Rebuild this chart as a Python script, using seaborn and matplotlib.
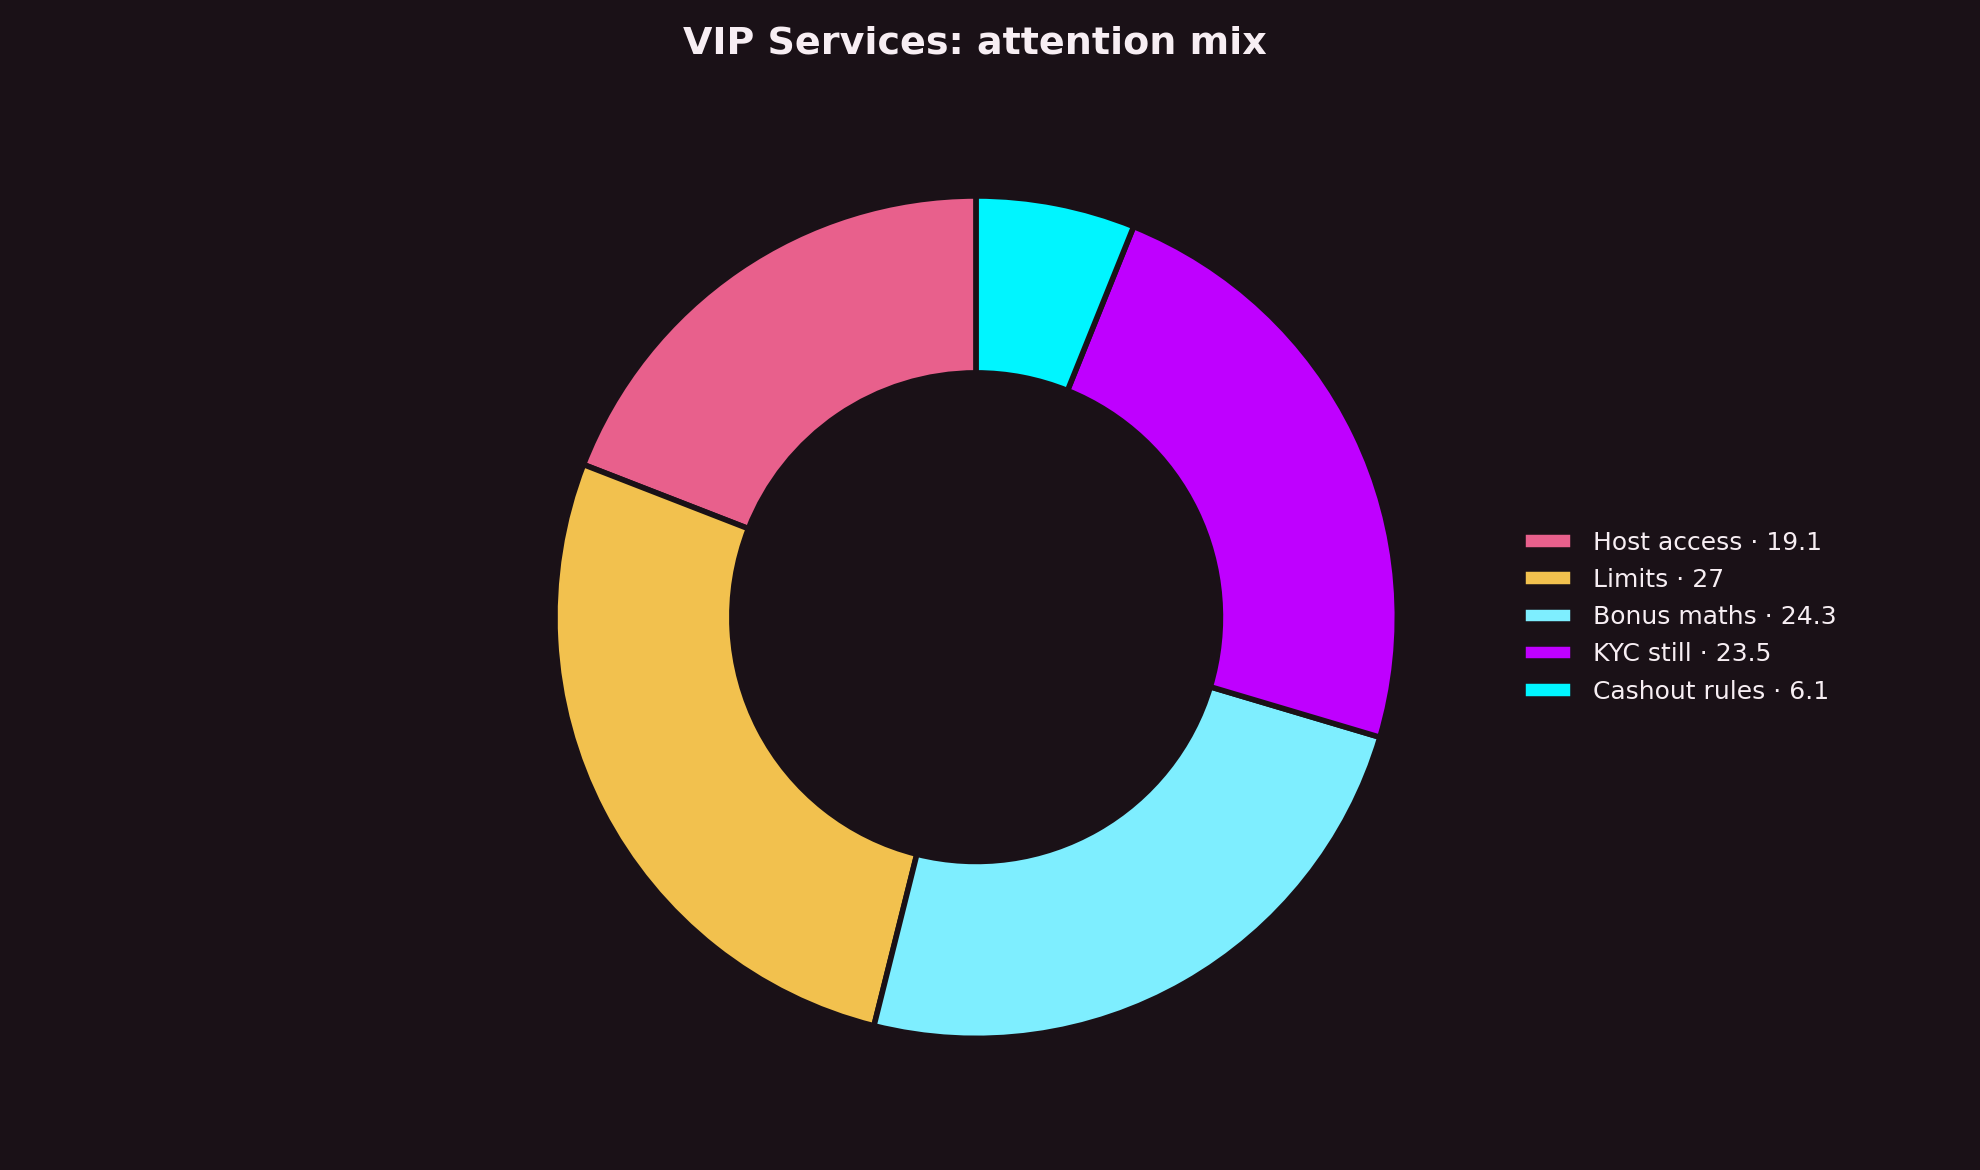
import matplotlib
matplotlib.use('Agg')
import matplotlib.pyplot as plt
import seaborn as sns

# Attention mix data for VIP Services
categories = ['Host access', 'Limits', 'Bonus maths', 'KYC still', 'Cashout rules']
values = [19.1, 27, 24.3, 23.5, 6.1]
colours = ['#e8608c', '#f2c14e', '#7eeeff', '#bf00ff', '#00f5ff']

bg = '#1a1117'
fg = '#f7eef3'

sns.set_theme(style='dark', rc={'figure.facecolor': bg, 'axes.facecolor': bg,
                                'text.color': fg, 'savefig.facecolor': bg})
plt.rcParams['font.family'] = ['DejaVu Sans']

fig = plt.figure(figsize=(9.9, 5.85), dpi=200)
ax = fig.add_axes([0.2265, 0.0225, 0.533, 0.9])

palette = sns.color_palette(colours)
wedges, _ = ax.pie(values, colors=palette, startangle=90, counterclock=True,
                   wedgeprops=dict(width=0.42, edgecolor=bg, linewidth=2))
ax.set_xlim(-1.25, 1.25)
ax.set_ylim(-1.25, 1.25)
ax.set_aspect('equal')

labels = ['{} · {:g}'.format(c, v) for c, v in zip(categories, values)]
leg = ax.legend(wedges, labels, loc='center left', bbox_to_anchor=(0.998, 0.5),
                frameon=False, fontsize=9, handleheight=0.7, handlelength=2.0,
                handletextpad=0.8, labelspacing=0.53)
for t in leg.get_texts():
    t.set_color(fg)

fig.text(0.4925, 1 - 43 / 1170, 'VIP Services: attention mix', ha='center', va='center',
         fontsize=13.7, fontweight='bold', color=fg)

fig.savefig('out.png', dpi=200, facecolor=bg)
